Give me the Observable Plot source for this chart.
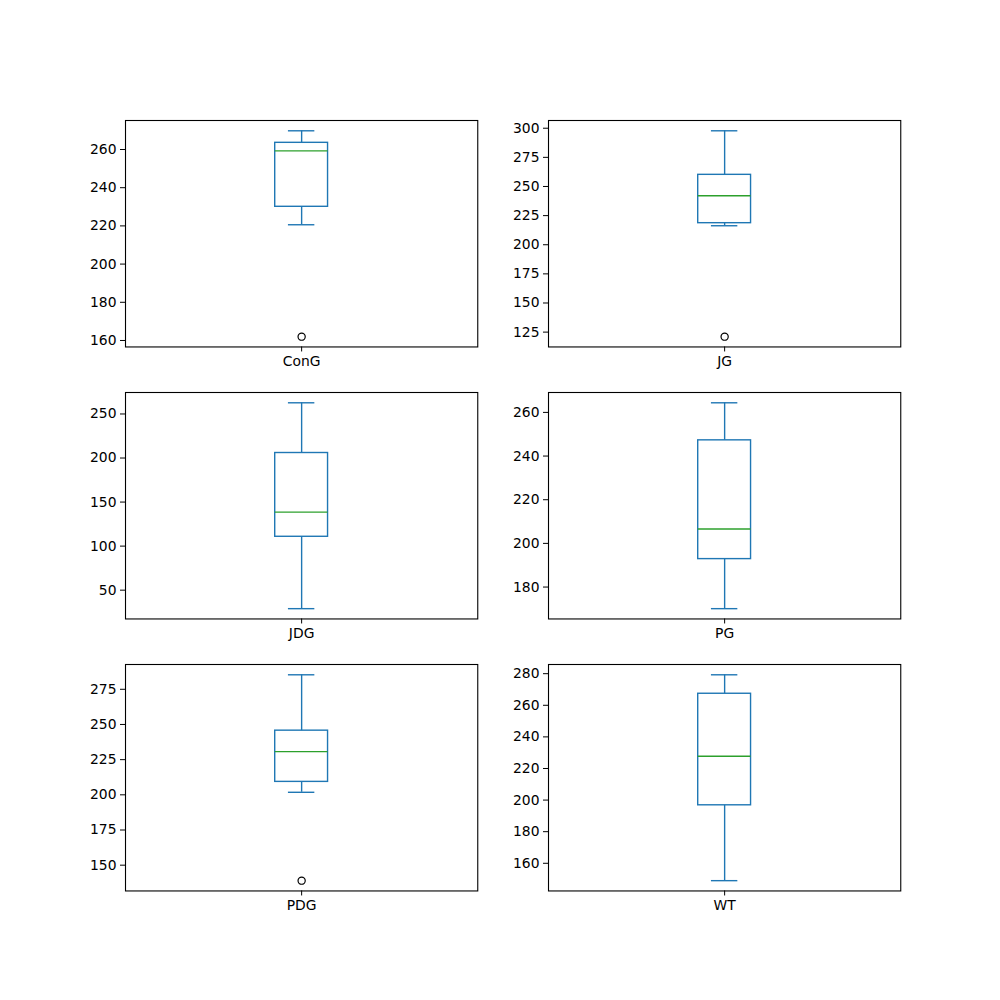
<!DOCTYPE html>
<html>
<head>
<meta charset="utf-8">
<script src="https://cdn.jsdelivr.net/npm/d3@7"></script>
<script src="https://cdn.jsdelivr.net/npm/@observablehq/plot@0.6"></script>
<style>
  html, body { margin: 0; padding: 0; background: #fff; }
  #fig { position: relative; width: 1000px; height: 1000px; background: #fff; overflow: hidden; }
  #fig svg { position: absolute; overflow: visible; }
</style>
</head>
<body>
<div id="fig"></div>
<script>
// Box plot summaries
const names       = ["ConG", "JG", "JDG", "PG", "PDG", "WT"];
const whiskerLow  = [220.6, 216.3, 29.0, 170.1, 201.8, 149.0];
const q1          = [230.0, 218.5, 110.6, 192.8, 209.2, 196.7];
const median      = [259.3, 242.0, 138.6, 206.6, 230.7, 227.7];
const q3          = [263.5, 260.0, 205.7, 247.2, 245.6, 267.3];
const whiskerHigh = [269.8, 297.8, 262.7, 264.4, 285.3, 279.3];
const outliers    = [[162.0], [121.1], [], [], [139.0], []];
const yTicks = [
  [160, 180, 200, 220, 240, 260],
  [125, 150, 175, 200, 225, 250, 275, 300],
  [50, 100, 150, 200, 250],
  [180, 200, 220, 240, 260],
  [150, 175, 200, 225, 250, 275],
  [160, 180, 200, 220, 240, 260, 280]
];

(function () {
  // Figure layout (matplotlib 3x2 subplots in 1000x1000)
  const figW = 1000, figH = 1000;
  const axLeft = 0.125 * figW, axRight = 0.9 * figW, axBottom = 0.89 * figH, axTop = 0.12 * figH;
  const axW = (axRight - axLeft) / (2 + 0.2);
  const axH = (axBottom - axTop) / (3 + 2 * 0.2);
  const ml = 60, mr = 10, mt = 10, mb = 40;

  const fig = document.getElementById("fig");
  const blue = "#1f77b4", green = "#2ca02c";
  const boxHalf = 0.075, capHalf = 0.0375;
  const font = "'DejaVu Sans', sans-serif";

  names.forEach((name, i) => {
    const col = i % 2, row = Math.floor(i / 2);
    const x0 = axLeft + col * axW * 1.2;
    const y0 = axTop + row * axH * 1.2;
    const lo = Math.min(whiskerLow[i], ...outliers[i]);
    const hi = Math.max(whiskerHigh[i], ...outliers[i]);
    const pad = (hi - lo) * 0.05;
    const d = [{q1: q1[i], med: median[i], q3: q3[i], wl: whiskerLow[i], wh: whiskerHigh[i]}];
    const out = outliers[i].map(v => ({v}));

    const svg = Plot.plot({
      width: axW + ml + mr,
      height: axH + mt + mb,
      marginLeft: ml, marginRight: mr, marginTop: mt, marginBottom: mb,
      style: {fontFamily: font, fontSize: "13.9px", color: "#000", background: "transparent", overflow: "visible"},
      x: {domain: [0.5, 1.5], ticks: [1], tickFormat: () => name, tickSize: 5, tickPadding: 4, label: null},
      y: {domain: [lo - pad, hi + pad], ticks: yTicks[i], tickSize: 5, tickPadding: 4, label: null},
      marks: [
        Plot.ruleX(d, {x: () => 1, y1: "q3", y2: "wh", stroke: blue, strokeWidth: 1.4}),
        Plot.ruleX(d, {x: () => 1, y1: "wl", y2: "q1", stroke: blue, strokeWidth: 1.4}),
        Plot.ruleY(d, {y: "wh", x1: () => 1 - capHalf, x2: () => 1 + capHalf, stroke: blue, strokeWidth: 1.4}),
        Plot.ruleY(d, {y: "wl", x1: () => 1 - capHalf, x2: () => 1 + capHalf, stroke: blue, strokeWidth: 1.4}),
        Plot.rect(d, {x1: () => 1 - boxHalf, x2: () => 1 + boxHalf, y1: "q1", y2: "q3", fill: "none", stroke: blue, strokeWidth: 1.4}),
        Plot.ruleY(d, {y: "med", x1: () => 1 - boxHalf, x2: () => 1 + boxHalf, stroke: green, strokeWidth: 1.4}),
        Plot.dot(out, {x: () => 1, y: "v", r: 3.6, stroke: "#000", fill: "none", strokeWidth: 1.2}),
        Plot.frame({stroke: "#000", strokeWidth: 1.1})
      ]
    });
    svg.style.left = (x0 - ml) + "px";
    svg.style.top = (y0 - mt) + "px";
    fig.appendChild(svg);
  });
})();
</script>
</body>
</html>
